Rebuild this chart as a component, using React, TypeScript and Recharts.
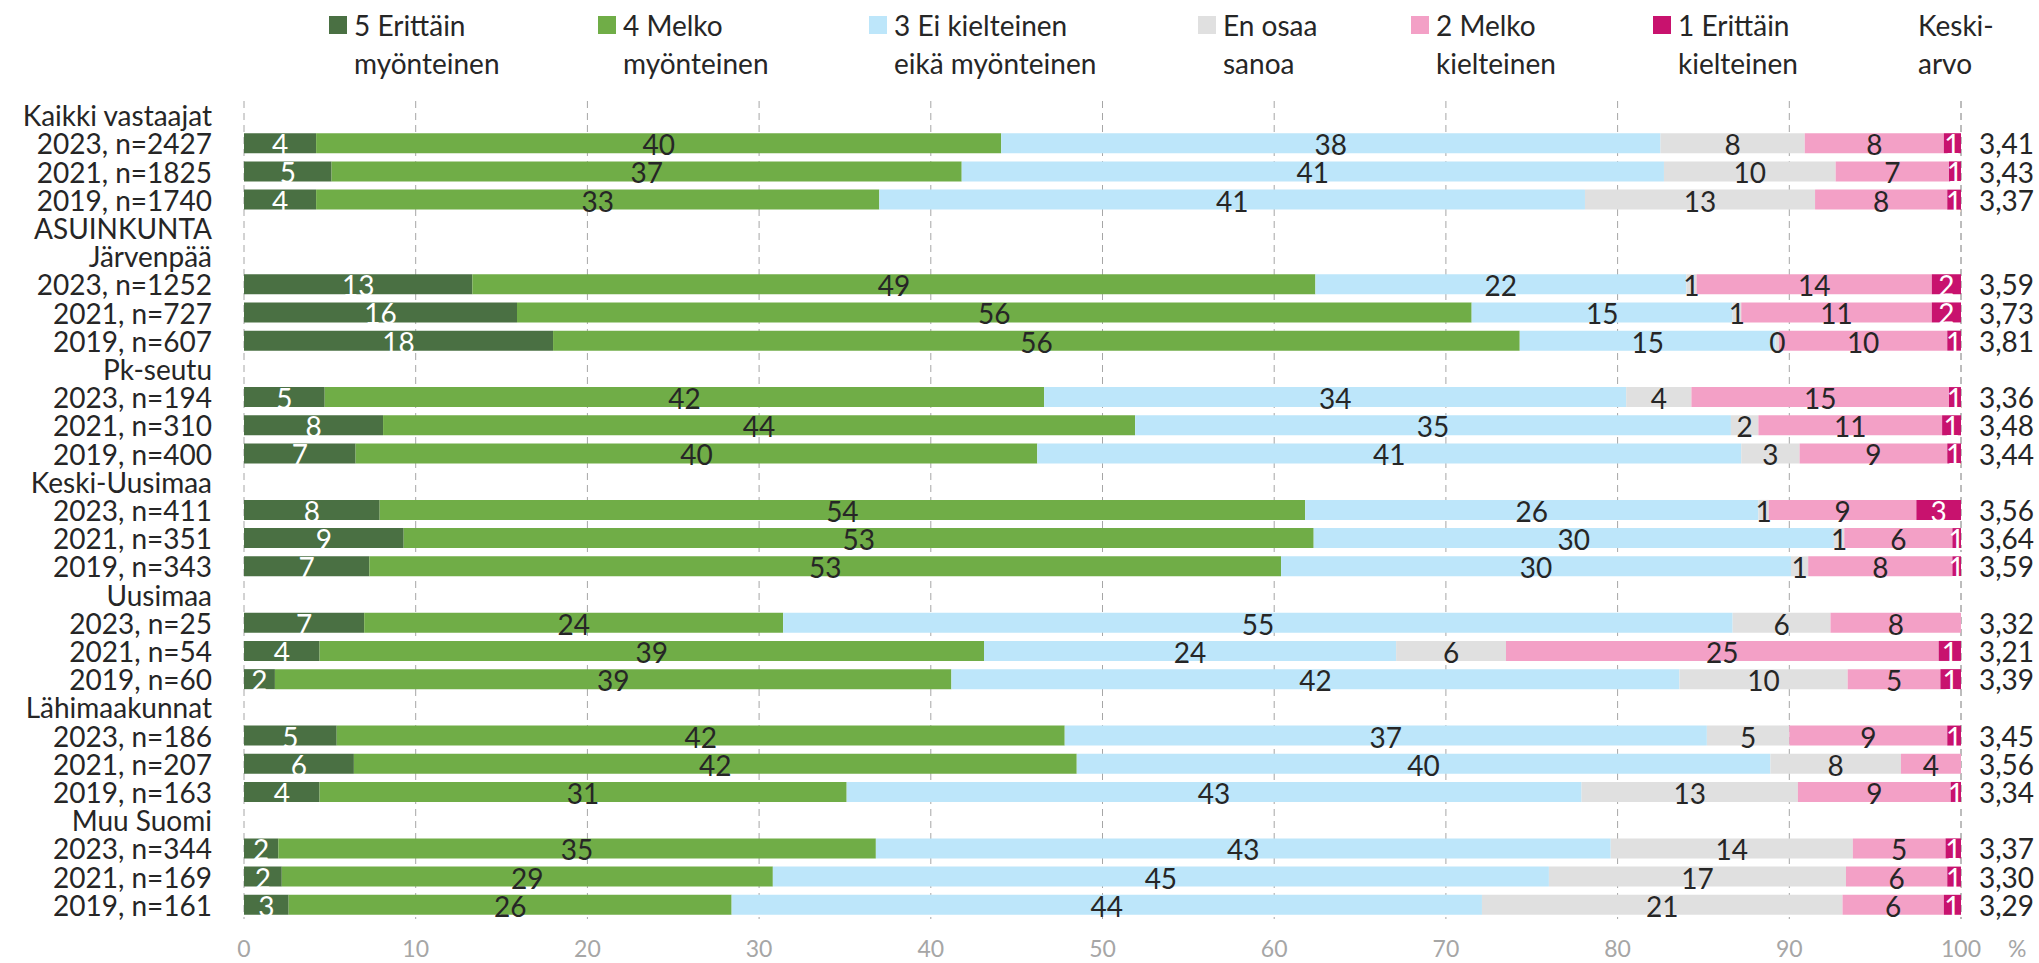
import React from "react"
import { BarChart, Bar, XAxis, YAxis, CartesianGrid, LabelList } from "recharts"

const _ = null

const categories = [
  "Kaikki vastaajat", "2023, n=2427", "2021, n=1825", "2019, n=1740",
  "ASUINKUNTA",
  "Järvenpää", "2023, n=1252", "2021, n=727", "2019, n=607",
  "Pk-seutu", "2023, n=194", "2021, n=310", "2019, n=400",
  "Keski-Uusimaa", "2023, n=411", "2021, n=351", "2019, n=343",
  "Uusimaa", "2023, n=25", "2021, n=54", "2019, n=60",
  "Lähimaakunnat", "2023, n=186", "2021, n=207", "2019, n=163",
  "Muu Suomi", "2023, n=344", "2021, n=169", "2019, n=161",
]

// % per vastausvaihtoehto, otsikkoriveillä ei arvoja
const erittainMyonteinen = [_, 4.2, 5.1, 4.2, _, _, 13.3, 15.9, 18.0, _, 4.7, 8.1, 6.5, _, 7.9, 9.3, 7.3, _, 7.0, 4.4, 1.8, _, 5.4, 6.4, 4.4, _, 2.0, 2.2, 2.6]
const melkoMyonteinen = [_, 39.9, 36.7, 32.8, _, _, 49.1, 55.6, 56.3, _, 41.9, 43.8, 39.7, _, 53.9, 53.0, 53.1, _, 24.4, 38.7, 39.4, _, 42.4, 42.1, 30.7, _, 34.8, 28.6, 25.8]
const eiKumpikaan = [_, 38.4, 40.9, 41.1, _, _, 21.6, 15.2, 14.9, _, 33.9, 34.7, 41.0, _, 26.4, 30.3, 29.7, _, 55.3, 24.0, 42.4, _, 37.4, 40.4, 42.8, _, 42.8, 45.2, 43.7]
const enOsaaSanoa = [_, 8.4, 10.0, 13.4, _, _, 0.6, 0.5, 0.2, _, 3.8, 1.6, 3.4, _, 0.6, 0.6, 1.0, _, 5.7, 6.4, 9.8, _, 4.8, 7.6, 12.6, _, 14.1, 17.3, 21.0]
const melkoKielteinen = [_, 8.1, 6.6, 7.7, _, _, 13.7, 11.1, 9.8, _, 15.0, 10.7, 8.6, _, 8.6, 6.3, 8.4, _, 7.6, 25.2, 5.4, _, 9.2, 3.5, 8.9, _, 5.4, 5.9, 5.9]
const erittainKielteinen = [_, 1.0, 0.7, 0.8, _, _, 1.7, 1.7, 0.8, _, 0.7, 1.1, 0.8, _, 2.6, 0.5, 0.5, _, _, 1.3, 1.2, _, 0.8, _, 0.6, _, 0.9, 0.8, 1.0]

const keskiarvo = [_, 3.41, 3.43, 3.37, _, _, 3.59, 3.73, 3.81, _, 3.36, 3.48, 3.44, _, 3.56, 3.64, 3.59, _, 3.32, 3.21, 3.39, _, 3.45, 3.56, 3.34, _, 3.37, 3.30, 3.29]

const xTicks = [0, 10, 20, 30, 40, 50, 60, 70, 80, 90, 100]

const series = [
  { key: "s5", values: erittainMyonteinen, label: ["5 Erittäin", "myönteinen"], color: "#4a7043", text: "#ffffff" },
  { key: "s4", values: melkoMyonteinen, label: ["4 Melko", "myönteinen"], color: "#70ad47", text: "#262626" },
  { key: "s3", values: eiKumpikaan, label: ["3 Ei kielteinen", "eikä myönteinen"], color: "#bde6fa", text: "#262626" },
  { key: "eos", values: enOsaaSanoa, label: ["En osaa", "sanoa"], color: "#e0e0e0", text: "#262626" },
  { key: "s2", values: melkoKielteinen, label: ["2 Melko", "kielteinen"], color: "#f3a0c6", text: "#262626" },
  { key: "s1", values: erittainKielteinen, label: ["1 Erittäin", "kielteinen"], color: "#c8126e", text: "#ffffff" },
]

const data = categories.map((name, i) => {
  const row: any = { name }
  series.forEach((s) => {
    row[s.key] = s.values[i]
  })
  return row
})

const FONT = "Lato, 'Open Sans', sans-serif"
const legendX = [329, 598, 869, 1198, 1411, 1653]

const fmt = (v: number) => v.toFixed(2).replace(".", ",")

const LeftTick = (props: any) => {
  const { x, y, payload } = props
  return (
    <text x={x} y={y} textAnchor="end" dominantBaseline="central" fill="#262626" fontSize={28} fontFamily={FONT}>
      {payload.value}
    </text>
  )
}

const RightTick = (props: any) => {
  const { x, y, index } = props
  const v = keskiarvo[index]
  if (v == null) return null
  return (
    <text x={x} y={y} textAnchor="start" dominantBaseline="central" fill="#262626" fontSize={28} fontFamily={FONT}>
      {fmt(v)}
    </text>
  )
}

const makeLabel = (color: string) => (props: any) => {
  const { x, y, width, height, value } = props
  if (value == null) return null
  return (
    <text
      x={x + width / 2}
      y={y + height / 2 + 1}
      textAnchor="middle"
      dominantBaseline="central"
      fill={color}
      fontSize={28}
      fontFamily={FONT}
    >
      {Math.round(value)}
    </text>
  )
}

export default function App() {
  return (
    <div style={{ position: "absolute", left: 0, top: 0, width: 2039, height: 963, background: "#fff", fontFamily: FONT }}>
      {/* legend */}
      {series.map((s, i) => (
        <div key={s.key} style={{ position: "absolute", left: legendX[i], top: 0 }}>
          <div style={{ position: "absolute", left: 0, top: 16, width: 18, height: 18, background: s.color }} />
          <div style={{ position: "absolute", left: 25, top: 6, fontSize: 28, lineHeight: "38px", color: "#262626", whiteSpace: "nowrap" }}>
            {s.label[0]}
            <br />
            {s.label[1]}
          </div>
        </div>
      ))}
      <div style={{ position: "absolute", left: 1918, top: 6, fontSize: 28, lineHeight: "38px", color: "#262626" }}>
        Keski-
        <br />
        arvo
      </div>
      <div style={{ position: "absolute", left: 2008, top: 934, fontSize: 23, color: "#a6a6a6" }}>%</div>

      <BarChart
        width={2039}
        height={963}
        data={data}
        layout="vertical"
        barSize={20}
        margin={{ top: 101, right: 0, bottom: 0, left: 0 }}
      >
        <CartesianGrid horizontal={false} stroke="#a6a6a6" strokeDasharray="7 5" />
        <XAxis
          type="number"
          domain={[0, 100]}
          ticks={xTicks}
          axisLine={false}
          tickLine={false}
          tickSize={0}
          tickMargin={22}
          height={44}
          tick={{ fill: "#a6a6a6", fontSize: 23, fontFamily: FONT }}
        />
        <YAxis
          yAxisId="left"
          type="category"
          dataKey="name"
          width={244}
          axisLine={false}
          tickLine={false}
          tickSize={0}
          tickMargin={32}
          interval={0}
          tick={<LeftTick />}
        />
        <YAxis
          yAxisId="right"
          orientation="right"
          type="category"
          dataKey="name"
          width={78}
          axisLine={false}
          tickLine={false}
          tickSize={0}
          tickMargin={18}
          interval={0}
          tick={<RightTick />}
        />
        {series.map((s) => (
          <Bar key={s.key} yAxisId="left" dataKey={s.key} stackId="a" fill={s.color} isAnimationActive={false}>
            <LabelList dataKey={s.key} content={makeLabel(s.text)} />
          </Bar>
        ))}
      </BarChart>
    </div>
  )
}
